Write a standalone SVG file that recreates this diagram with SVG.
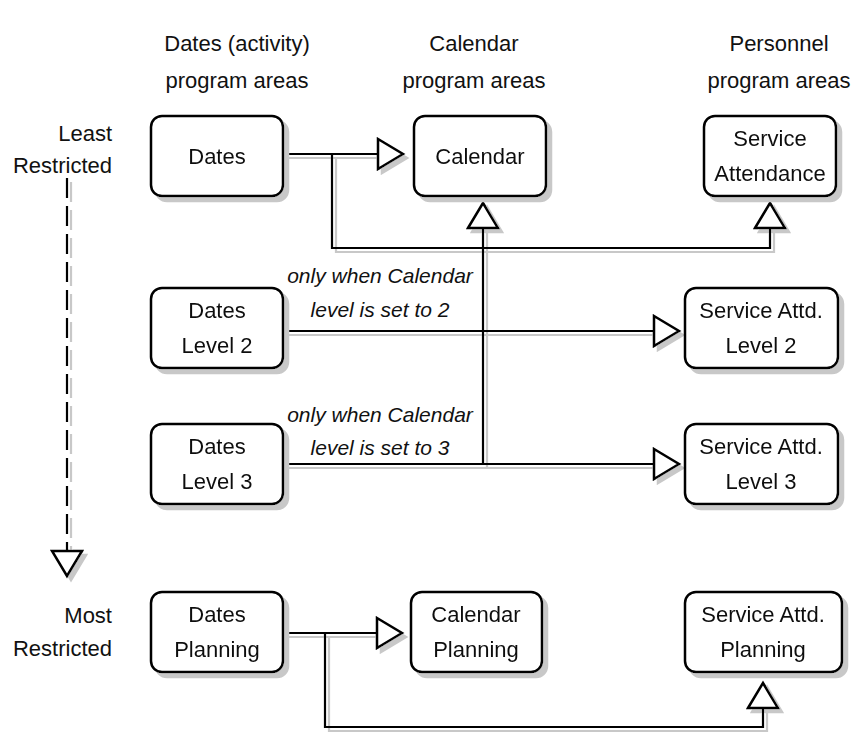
<svg xmlns="http://www.w3.org/2000/svg" width="854" height="732" viewBox="0 0 854 732">
<style>
text{font-family:"Liberation Sans","DejaVu Sans",sans-serif;font-size:22px;fill:#111;text-anchor:middle}
.lbl{font-style:italic;font-size:21px}
.side{text-anchor:end}
.box{fill:#fff;stroke:#000;stroke-width:2.5}
.ln{fill:none;stroke:#000;stroke-width:2.2}
.dash{stroke-dasharray:20 8}
</style>
<defs>
<filter id="sh" x="-10%" y="-10%" width="130%" height="130%">
<feOffset in="SourceAlpha" dx="5" dy="5" result="o"/>
<feFlood flood-color="#c8c8c8"/>
<feComposite in2="o" operator="in"/>
<feMerge><feMergeNode/><feMergeNode in="SourceGraphic"/></feMerge>
</filter>
<filter id="shl" x="-10%" y="-10%" width="130%" height="130%">
<feOffset in="SourceAlpha" dx="4" dy="4" result="o"/>
<feFlood flood-color="#c8c8c8"/>
<feComposite in2="o" operator="in"/>
<feMerge><feMergeNode/><feMergeNode in="SourceGraphic"/></feMerge>
</filter>
<marker id="ah" markerUnits="userSpaceOnUse" markerWidth="30" markerHeight="34" viewBox="-2 -2 30 34" refX="25" refY="15" orient="auto">
<path d="M0,0 L25,15 L0,30 Z" fill="#fff" stroke="#000" stroke-width="2.5" stroke-linejoin="miter"/>
</marker>
</defs>

<g id="headers">
<text x="237" y="51">Dates (activity)</text>
<text x="237" y="88">program areas</text>
<text x="474" y="51">Calendar</text>
<text x="474" y="88">program areas</text>
<text x="779" y="51">Personnel</text>
<text x="779" y="88">program areas</text>
</g>

<g id="side-labels">
<text class="side" x="112" y="141">Least</text>
<text class="side" x="112" y="173">Restricted</text>
<text class="side" x="112" y="623">Most</text>
<text class="side" x="112" y="656">Restricted</text>
</g>

<g id="connectors" filter="url(#shl)">
<path class="ln dash" d="M67,178 V576" marker-end="url(#ah)"/>
<path class="ln" d="M283,154 H403" marker-end="url(#ah)"/>
<path class="ln" d="M332,154 V248 H770 V203" marker-end="url(#ah)"/>
<path class="ln" d="M483,464 V203" marker-end="url(#ah)"/>
<path class="ln" d="M283,331 H679" marker-end="url(#ah)"/>
<path class="ln" d="M283,464 H679" marker-end="url(#ah)"/>
<path class="ln" d="M283,633 H402" marker-end="url(#ah)"/>
<path class="ln" d="M325,633 V727 H763 V683" marker-end="url(#ah)"/>
</g>

<g id="connector-labels">
<text class="lbl" x="380" y="283">only when Calendar</text>
<text class="lbl" x="380" y="317">level is set to 2</text>
<text class="lbl" x="380" y="422">only when Calendar</text>
<text class="lbl" x="380" y="455">level is set to 3</text>
</g>

<g id="n-dates" filter="url(#sh)">
<rect class="box" x="151" y="116" width="132" height="80" rx="11"/>
<text x="217" y="164">Dates</text>
</g>
<g id="n-calendar" filter="url(#sh)">
<rect class="box" x="414" y="116" width="132" height="80" rx="11"/>
<text x="480" y="164">Calendar</text>
</g>
<g id="n-service-attendance" filter="url(#sh)">
<rect class="box" x="704" y="116" width="132" height="80" rx="11"/>
<text x="770" y="146">Service</text>
<text x="770" y="181">Attendance</text>
</g>
<g id="n-dates-level2" filter="url(#sh)">
<rect class="box" x="151" y="288" width="132" height="80" rx="11"/>
<text x="217" y="318">Dates</text>
<text x="217" y="353">Level 2</text>
</g>
<g id="n-service-level2" filter="url(#sh)">
<rect class="box" x="685" y="288" width="153" height="80" rx="11"/>
<text x="761" y="318">Service Attd.</text>
<text x="761" y="353">Level 2</text>
</g>
<g id="n-dates-level3" filter="url(#sh)">
<rect class="box" x="151" y="424" width="132" height="80" rx="11"/>
<text x="217" y="454">Dates</text>
<text x="217" y="489">Level 3</text>
</g>
<g id="n-service-level3" filter="url(#sh)">
<rect class="box" x="685" y="424" width="153" height="80" rx="11"/>
<text x="761" y="454">Service Attd.</text>
<text x="761" y="489">Level 3</text>
</g>
<g id="n-dates-planning" filter="url(#sh)">
<rect class="box" x="151" y="592" width="132" height="80" rx="11"/>
<text x="217" y="622">Dates</text>
<text x="217" y="657">Planning</text>
</g>
<g id="n-calendar-planning" filter="url(#sh)">
<rect class="box" x="411" y="592" width="131" height="80" rx="11"/>
<text x="476" y="622">Calendar</text>
<text x="476" y="657">Planning</text>
</g>
<g id="n-service-planning" filter="url(#sh)">
<rect class="box" x="685" y="592" width="157" height="80" rx="11"/>
<text x="763" y="622">Service Attd.</text>
<text x="763" y="657">Planning</text>
</g>
</svg>
